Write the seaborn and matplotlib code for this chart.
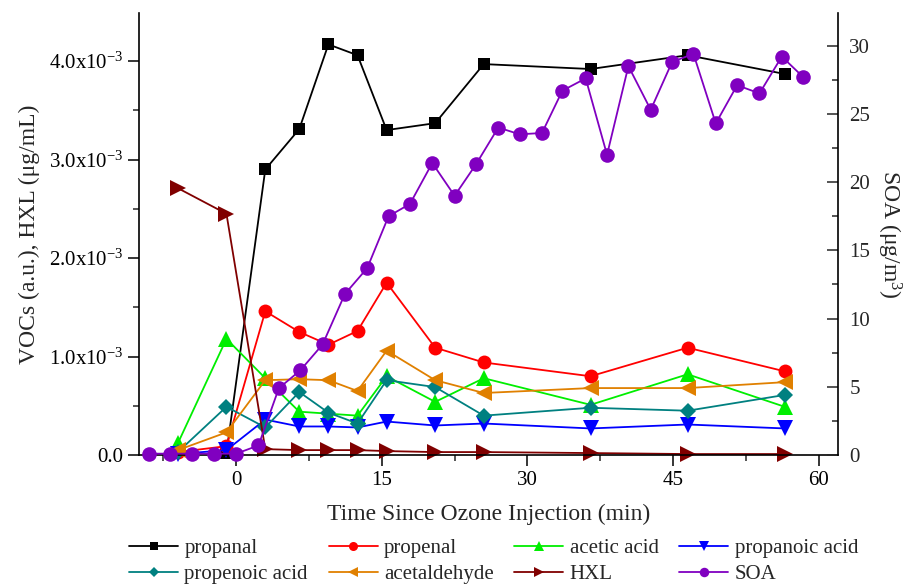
import numpy as np
import matplotlib
matplotlib.use('Agg')
import matplotlib.pyplot as plt
from matplotlib.ticker import MultipleLocator, FuncFormatter
import seaborn as sns

# --- data (time in min, VOC values in a.u. / ug/mL, SOA in ug/m3) ---
t_voc = [-1, 3, 6.5, 9.5, 12.5, 15.5, 20.5, 25.5, 36.5, 46.5, 56.5]
t_voc6 = [-6] + t_voc

propanal = [0.02e-3, 2.90e-3, 3.31e-3, 4.17e-3, 4.06e-3, 3.30e-3, 3.37e-3, 3.97e-3, 3.92e-3, 4.06e-3, 3.87e-3]
propenal = [0.03e-3, 0.09e-3, 1.46e-3, 1.25e-3, 1.12e-3, 1.26e-3, 1.75e-3, 1.09e-3, 0.94e-3, 0.80e-3, 1.09e-3, 0.85e-3]
acetic_acid = [0.12e-3, 1.18e-3, 0.78e-3, 0.44e-3, 0.42e-3, 0.40e-3, 0.80e-3, 0.54e-3, 0.78e-3, 0.51e-3, 0.82e-3, 0.49e-3]
propanoic_acid = [0.01e-3, 0.05e-3, 0.36e-3, 0.29e-3, 0.29e-3, 0.28e-3, 0.34e-3, 0.30e-3, 0.32e-3, 0.27e-3, 0.31e-3, 0.27e-3]
propenoic_acid = [0.03e-3, 0.49e-3, 0.28e-3, 0.64e-3, 0.43e-3, 0.32e-3, 0.76e-3, 0.69e-3, 0.40e-3, 0.48e-3, 0.45e-3, 0.61e-3]
acetaldehyde = [0.05e-3, 0.23e-3, 0.76e-3, 0.77e-3, 0.76e-3, 0.65e-3, 1.06e-3, 0.76e-3, 0.63e-3, 0.68e-3, 0.68e-3, 0.74e-3]
hxl = [2.71e-3, 2.45e-3, 0.06e-3, 0.05e-3, 0.05e-3, 0.05e-3, 0.04e-3, 0.03e-3, 0.03e-3, 0.02e-3, 0.01e-3, 0.01e-3]

t_soa = [-9.0, -6.8, -4.5, -2.3, 0.0, 2.3, 4.4, 6.6, 8.9, 11.2, 13.5, 15.7, 17.9, 20.2,
         22.5, 24.7, 27.0, 29.2, 31.5, 33.6, 36.0, 38.2, 40.4, 42.7, 44.9, 47.1, 49.4,
         51.6, 53.9, 56.2, 58.4]
soa = [0.1, 0.1, 0.1, 0.1, 0.1, 0.7, 4.9, 6.2, 8.1, 11.8, 13.7, 17.5, 18.4, 21.4,
       19.0, 21.3, 24.0, 23.5, 23.6, 26.7, 27.6, 22.0, 28.5, 25.3, 28.8, 29.4, 24.3,
       27.1, 26.5, 29.2, 27.7]

sns.set_style('ticks')
plt.rcParams['font.family'] = ['Liberation Serif', 'DejaVu Serif']
plt.rcParams['mathtext.fontset'] = 'custom'
plt.rcParams['mathtext.rm'] = 'Liberation Serif'
plt.rcParams['mathtext.it'] = 'Liberation Serif:italic'
plt.rcParams['font.size'] = 14

fig = plt.figure(figsize=(9.21, 5.86), dpi=100)
ax = fig.add_axes([0.151, 0.2235, 0.759, 0.7545])
ax2 = ax.twinx()

series = [
    ('propanal', t_voc, propanal, 's', 'black', 9),
    ('propenal', t_voc6, propenal, 'o', '#FF0000', 10),
    ('acetic acid', t_voc6, acetic_acid, '^', '#00EE00', 11),
    ('propanoic acid', t_voc6, propanoic_acid, 'v', '#0000FF', 11),
    ('propenoic acid', t_voc6, propenoic_acid, 'D', '#008080', 8.5),
    ('acetaldehyde', t_voc6, acetaldehyde, '<', '#E08000', 11),
    ('HXL', t_voc6, hxl, '>', '#800000', 11),
]

handles = {}
for name, x, y, m, c, ms in series:
    sns.lineplot(x=x, y=y, ax=ax, color=c, marker=m, markersize=ms, linewidth=1.3,
                 markeredgewidth=0, estimator=None, sort=False, label=name, legend=False)
    ln = ax.lines[-1]
    ln.set_clip_on(False)
    handles[name] = ln

sns.lineplot(x=t_soa, y=soa, ax=ax2, color='#8000C0', marker='o', markersize=10.5,
             linewidth=1.3, markeredgewidth=0, estimator=None, sort=False,
             label='SOA', legend=False)
ax2.lines[-1].set_clip_on(False)
handles['SOA'] = ax2.lines[-1]

ax.set_xlim(-10, 62)
ax.set_ylim(0, 4.49e-3)
ax2.set_ylim(0, 32.4)

ax.xaxis.set_major_locator(MultipleLocator(15))
ax.xaxis.set_minor_locator(MultipleLocator(7.5))
ax.yaxis.set_major_locator(MultipleLocator(1e-3))
ax.yaxis.set_minor_locator(MultipleLocator(0.5e-3))
ax2.yaxis.set_major_locator(MultipleLocator(5))
ax2.yaxis.set_minor_locator(MultipleLocator(2.5))


def sci_fmt(v, pos):
    if abs(v) < 1e-12:
        return '0.0'
    return '%.1fx10$^{-3}$' % (v * 1e3)


ax.yaxis.set_major_formatter(FuncFormatter(sci_fmt))

for a in (ax, ax2):
    a.spines['top'].set_visible(False)
    for s in a.spines.values():
        s.set_linewidth(1.2)
        s.set_color('black')

ax.spines['right'].set_visible(False)
ax2.spines['left'].set_visible(False)
ax2.spines['bottom'].set_visible(False)

ax.tick_params(axis='both', which='major', direction='out', length=8, width=1.1,
               labelsize=15, colors='black')
ax.tick_params(axis='both', which='minor', direction='out', length=4.5, width=1.1)
ax2.tick_params(axis='y', which='major', direction='in', length=8, width=1.1,
                labelsize=15, pad=8)
ax2.tick_params(axis='y', which='minor', direction='in', length=4.5, width=1.1)

ax.set_xlabel('Time Since Ozone Injection (min)', fontsize=17, labelpad=10)
ax.set_ylabel('VOCs (a.u.), HXL (μg/mL)', fontsize=17, labelpad=6)
ax2.set_ylabel('SOA (μg/m$^3$)', fontsize=17, rotation=270, labelpad=24)

order = ['propanal', 'propenoic acid', 'propenal', 'acetaldehyde',
         'acetic acid', 'HXL', 'propanoic acid', 'SOA']
fig.legend([handles[k] for k in order], order, loc='lower center',
           bbox_to_anchor=(0.536, -0.029), ncol=4, frameon=False, fontsize=15,
           handlelength=2.35, markerscale=0.65, columnspacing=1.0,
           handletextpad=0.3, labelspacing=0.3)

fig.savefig('out.png', dpi=100)
